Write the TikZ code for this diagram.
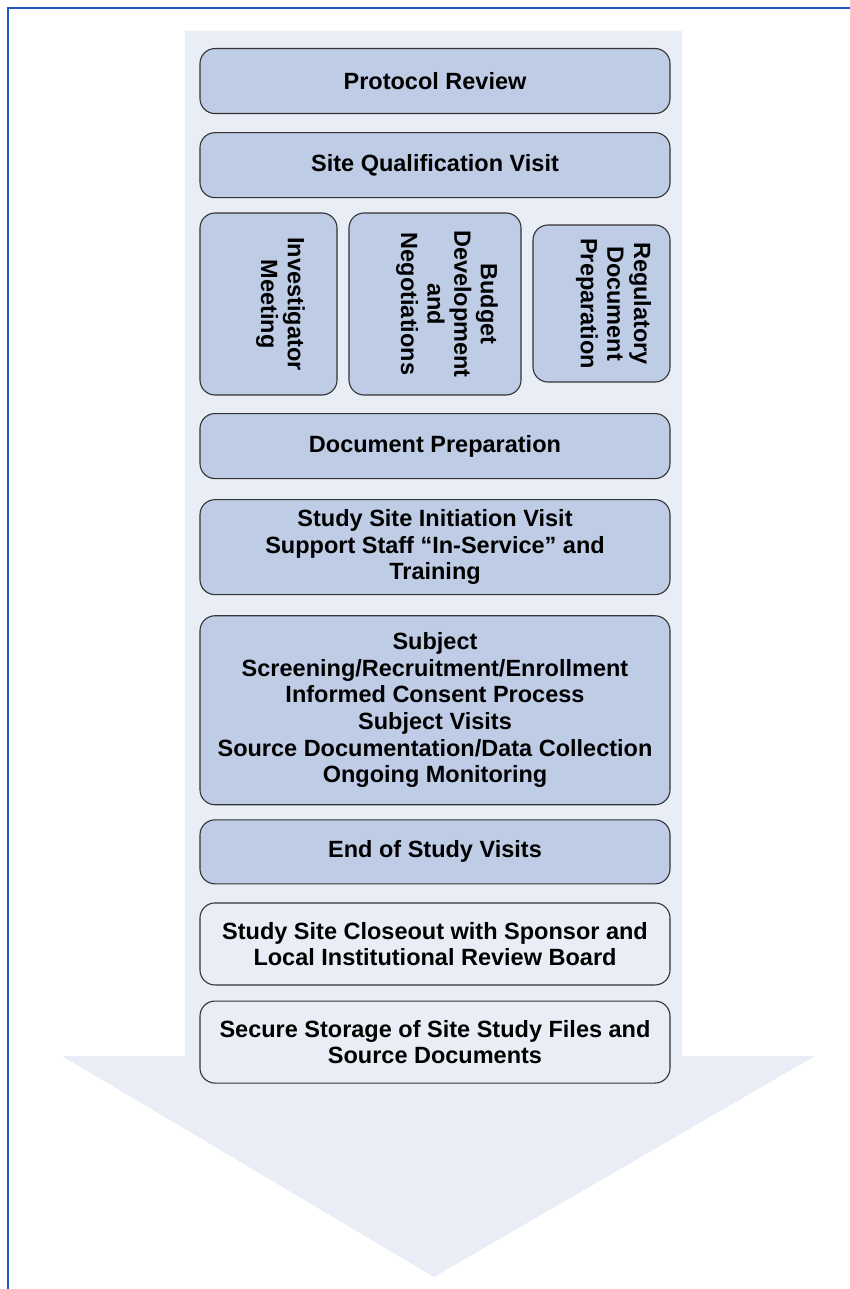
\documentclass[tikz,border=0pt]{standalone}
\usepackage{fontspec}
\setmainfont{Liberation Sans}
\usetikzlibrary{positioning}

\definecolor{stageblue}{RGB}{190,204,230}
\definecolor{arrowbg}{RGB}{233,237,245}
\definecolor{framblue}{RGB}{30,90,190}

\begin{document}
\begin{tikzpicture}[
		x=1pt, y=-1pt,
		stage/.style={draw=black!80, line width=1.1pt, rounded corners=15pt,
			fill=stageblue, align=center, inner sep=3pt,
			font=\bfseries\fontsize{23.5}{26.6}\selectfont,
			minimum width=470pt},
		laterstage/.style={stage, fill=arrowbg},
		turned/.style={stage, rotate=-90, minimum width=182pt, text depth=29pt}
	]
		\useasboundingbox (0,0) rectangle (850,1289);
		% the big arrow behind everything
		\fill[arrowbg] (185,31) -- (682,31) -- (682,1056) -- (815,1056)
			-- (434,1277) -- (62,1056) -- (185,1056) -- cycle;
		\draw[framblue, line width=2pt] (8,1289) -- (8,8) -- (850,8);

		\node[stage, minimum height=65pt, anchor=north] (review) at (435,48) {Protocol Review};
		\node[stage, minimum height=65pt, below=18pt of review] (qualify) {Site Qualification Visit};

		% three side by side
		\node[turned, minimum height=137pt] (investig) at (268.5,304) {Investigator\\Meeting};
		\node[turned, minimum height=172pt] (budget) at (435,304) {Budget\\Development\\and\\Negotiations};
		\node[turned, minimum width=157pt, minimum height=137pt] (regdoc) at (601.5,303.5) {Regulatory\\Document\\Preparation};

		\node[stage, minimum height=65pt, anchor=north] (docprep) at (435,413) {Document Preparation};
		\node[stage, minimum height=95pt, below=20pt of docprep] (initiation)
			{Study Site Initiation Visit\\Support Staff ``In-Service'' and\\Training};
		\node[stage, minimum height=189pt, below=20pt of initiation] (subject)
			{Subject\\Screening/Recruitment/Enrollment\\Informed Consent Process\\Subject Visits\\Source Documentation/Data Collection\\Ongoing Monitoring};
		\node[stage, minimum height=64pt, below=14pt of subject] (endvisits) {End of Study Visits};
		\node[laterstage, minimum height=82pt, below=18pt of endvisits] (closeout)
			{Study Site Closeout with Sponsor and\\Local Institutional Review Board};
		\node[laterstage, minimum height=82pt, below=15pt of closeout] (storage)
			{Secure Storage of Site Study Files and\\Source Documents};
	\end{tikzpicture}
\end{document}
